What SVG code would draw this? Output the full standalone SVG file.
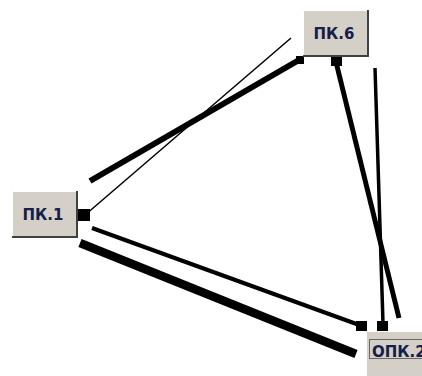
<svg xmlns="http://www.w3.org/2000/svg" width="422" height="376" viewBox="0 0 422 376">
<style>
.box{fill:#d4d0c8}
.hi{stroke:#ffffff;stroke-width:1;fill:none}
.sh{stroke:#404040;stroke-width:2;fill:none}
.lbl{font-family:"DejaVu Sans",Verdana,sans-serif;font-weight:bold;font-size:15px;fill:#14204a;text-anchor:middle}
.c{stroke:#000;fill:none;stroke-linecap:butt}
.sq{fill:#000}
</style>
<rect width="422" height="376" fill="#ffffff"/>
<g id="connectors">
<line class="c" x1="85" y1="215" x2="291" y2="38" stroke-width="1.5"/>
<line class="c" x1="90" y1="181" x2="299" y2="60" stroke-width="6"/>
<rect class="sq" x="296" y="56" width="8" height="8"/>
<line class="c" x1="336" y1="62" x2="399" y2="318" stroke-width="5"/>
<rect class="sq" x="331" y="56" width="11" height="10"/>
<line class="c" x1="375" y1="68" x2="383" y2="323" stroke-width="3.5"/>
<rect class="sq" x="377" y="321" width="11" height="10"/>
<line class="c" x1="92" y1="228" x2="362" y2="326" stroke-width="4"/>
<rect class="sq" x="356" y="321" width="11" height="10"/>
<line class="c" x1="80" y1="243" x2="356" y2="354" stroke-width="8.5"/>
<rect class="sq" x="78" y="209" width="12" height="12"/>
</g>
<g id="node-pk6">
<rect class="box" x="303" y="10" width="65" height="46"/>
<polyline class="hi" points="303.5,55 303.5,10.5 367,10.5"/>
<polyline class="sh" points="303,56 368,56 368,10"/>
<text class="lbl" x="334" y="39">ПК.6</text>
</g>
<g id="node-pk1">
<rect class="box" x="12" y="191" width="65" height="46"/>
<polyline class="hi" points="12.5,236 12.5,191.5 76,191.5"/>
<polyline class="sh" points="12,237 77,237 77,191"/>
<text class="lbl" x="43" y="220">ПК.1</text>
</g>
<g id="node-opk2">
<rect class="box" x="366" y="331" width="70" height="46"/>
<polyline class="hi" points="366.5,376 366.5,331.5 422,331.5"/>
<rect x="369.5" y="339.5" width="60" height="19" fill="none" stroke="#000" stroke-width="1" stroke-dasharray="1,1"/>
<text class="lbl" x="372" y="357" style="text-anchor:start">ОПК.2</text>
</g>
</svg>
